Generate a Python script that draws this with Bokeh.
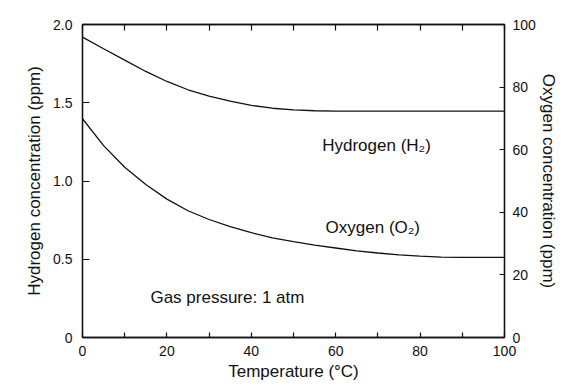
from bokeh.plotting import figure
from bokeh.models import Range1d, LinearAxis, FixedTicker, ColumnDataSource
from bokeh.core.properties import value
from bokeh.embed import file_html
from bokeh.resources import INLINE

# ---- data ----
temperature = [0, 5, 10, 15, 20, 25, 30, 35, 40, 45, 50, 55, 60, 65, 70, 75, 80, 85, 90, 95, 100]
hydrogen_ppm = [1.919, 1.845, 1.772, 1.700, 1.636, 1.583, 1.543, 1.511, 1.483, 1.465, 1.455,
                1.449, 1.446, 1.446, 1.446, 1.446, 1.446, 1.446, 1.446, 1.446, 1.446]
oxygen_ppm = [69.9, 61.3, 54.4, 48.9, 44.2, 40.5, 37.7, 35.4, 33.5, 31.8, 30.6,
              29.5, 28.6, 27.7, 27.0, 26.4, 26.0, 25.7, 25.6, 25.6, 25.6]

x_major_ticks = [0, 20, 40, 60, 80, 100]
x_minor_ticks = [10, 30, 50, 70, 90]
top_ticks = [0, 10, 20, 30, 40, 50, 60, 70, 80, 90, 100]
left_ticks = [0, 0.5, 1.0, 1.5, 2.0]
left_tick_labels = ["0", "0.5", "1.0", "1.5", "2.0"]
right_ticks = [0, 20, 40, 60, 80, 100]
right_tick_labels = ["0", "20", "40", "60", "80", "100"]

annotations_text = ["Hydrogen (H\u2082)", "Oxygen (O\u2082)", "Gas pressure: 1 atm"]
annotations_x = [56.8, 57.6, 16.1]
annotations_y = [1.227, 0.705, 0.256]

FONT = "Liberation Sans"
INK = "#111111"

p = figure(width=570, height=383, output_backend="svg", toolbar_location=None,
           x_range=Range1d(0, 100), y_range=Range1d(0, 2),
           min_border_left=82, min_border_right=66, min_border_top=24, min_border_bottom=46)
p.extra_y_ranges = {"o2": Range1d(0, 100)}
p.background_fill_color = "white"
p.border_fill_color = "white"
p.outline_line_color = INK
p.outline_line_width = 1.3
p.xgrid.visible = False
p.ygrid.visible = False

def style_axis(ax, tick_in):
    ax.axis_line_color = INK
    ax.axis_line_width = 1.3
    ax.major_tick_in = tick_in
    ax.major_tick_out = 0
    ax.minor_tick_in = tick_in
    ax.minor_tick_out = 0
    ax.major_tick_line_color = INK
    ax.minor_tick_line_color = INK
    ax.major_tick_line_width = 1.2
    ax.minor_tick_line_width = 1.2
    ax.major_label_text_font = FONT
    ax.major_label_text_font_size = "14px"
    ax.major_label_text_color = INK
    ax.axis_label_text_font = FONT
    ax.axis_label_text_font_size = "17px"
    ax.axis_label_text_font_style = "normal"
    ax.axis_label_text_color = INK

# bottom axis
xa = p.xaxis[0]
xa.ticker = FixedTicker(ticks=x_major_ticks, minor_ticks=x_minor_ticks)
style_axis(xa, 5)
xa.major_label_standoff = 8
xa.axis_label = "Temperature (\u00b0C)"
xa.axis_label_standoff = 3

# left axis
ya = p.yaxis[0]
ya.ticker = FixedTicker(ticks=left_ticks, minor_ticks=[])
ya.major_label_overrides = {t: l for t, l in zip(left_ticks, left_tick_labels)}
style_axis(ya, 7)
ya.major_label_standoff = 10
ya.axis_label = "Hydrogen concentration (ppm)"
ya.axis_label_standoff = 6

# right axis
ra = LinearAxis(y_range_name="o2")
ra.ticker = FixedTicker(ticks=right_ticks, minor_ticks=[])
ra.major_label_overrides = {t: l for t, l in zip(right_ticks, right_tick_labels)}
style_axis(ra, 5)
ra.major_label_standoff = 8
ra.axis_label = "Oxygen concentration (ppm)"
ra.axis_label_standoff = 0
p.add_layout(ra, "right")

# top axis (ticks only, drawn as minor ticks so no labels exist)
ta = LinearAxis()
ta.ticker = FixedTicker(ticks=[], minor_ticks=top_ticks)
style_axis(ta, 6)
ta.major_label_standoff = 0
p.add_layout(ta, "above")

src = ColumnDataSource(dict(t=temperature, h=hydrogen_ppm, o=oxygen_ppm))
p.line("t", "h", source=src, line_color=INK, line_width=1.3)
p.line("t", "o", source=src, line_color=INK, line_width=1.3, y_range_name="o2")

asrc = ColumnDataSource(dict(x=annotations_x, y=annotations_y, text=annotations_text))
p.text("x", "y", text="text", source=asrc, text_font=value(FONT), text_font_size="17px",
       text_color=INK, text_align="left", text_baseline="alphabetic")

open("out.html", "w").write(file_html(p, INLINE))
